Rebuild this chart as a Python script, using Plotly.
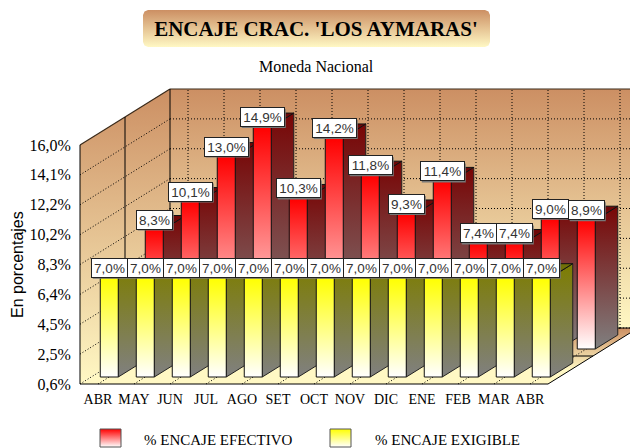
import plotly.graph_objects as go

months = ["ABR", "MAY", "JUN", "JUL", "AGO", "SET", "OCT", "NOV", "DIC", "ENE", "FEB", "MAR", "ABR"]
efectivo = [8.3, 10.1, 13.0, 14.9, 10.3, 14.2, 11.8, 9.3, 11.4, 7.4, 7.4, 9.0, 8.9]
exigible = [7.0, 7.0, 7.0, 7.0, 7.0, 7.0, 7.0, 7.0, 7.0, 7.0, 7.0, 7.0, 7.0]
y_ticks = [0.6, 2.525, 4.45, 6.375, 8.3, 10.225, 12.15, 14.075, 16.0]
y_labels = ["0,6%", "2,5%", "4,5%", "6,4%", "8,3%", "10,2%", "12,2%", "14,1%", "16,0%"]
title_text = "ENCAJE CRAC. 'LOS AYMARAS'"
subtitle_text = "Moneda Nacional"
y_title = "En porcentajes"
legend_names = ["% ENCAJE EFECTIVO", "% ENCAJE EXIGIBLE"]

W, H = 630, 448
L, R, T, B = 80, 548, 145, 384
VMIN, VMAX = 0.6, 16.0
N = len(months)
SLOT = (R - L) / N
PXV = (B - T) / (VMAX - VMIN)
DX, DY = 90 / SLOT, 56 / PXV   # full floor depth in axis units


def proj(x, v, d=0.0):
    return x + d * DX, v + d * DY


def px(xp, yp):
    return (xp - L) / SLOT, VMIN + (B - yp) / PXV


BROWN = "rgb(204,143,99)"
PALE = "rgb(255,248,196)"
traces = []


def poly(pts, scale=None, span=None, color=None, line="black", lw=1, name=None):
    xs = [p[0] for p in pts] + [pts[0][0]]
    ys = [p[1] for p in pts] + [pts[0][1]]
    kw = dict(x=xs, y=ys, mode="lines", fill="toself",
              hoverinfo="skip", showlegend=False, name=name,
              line=dict(color=line, width=lw, simplify=False))
    if line is None:
        kw["line"] = dict(width=0)
    if scale:
        fg = dict(type="vertical", colorscale=[[0, scale[0]], [1, scale[1]]])
        if span:
            fg["start"], fg["stop"] = span
        kw["fillgradient"] = fg
    else:
        kw["fillcolor"] = color
    traces.append(go.Scatter(**kw))


def seg(p, q, dash="solid", color="black", lw=1):
    traces.append(go.Scatter(x=[p[0], q[0]], y=[p[1], q[1]], mode="lines",
                             hoverinfo="skip", showlegend=False,
                             line=dict(color=color, width=lw, dash=dash)))


DOT = "1px,2px"
# walls and floor
back_bottom = proj(0, VMIN, 1)[1]
back_top = proj(0, VMAX, 1)[1]
poly([proj(0, VMIN, 1), proj(N, VMIN, 1), proj(N, VMAX, 1), proj(0, VMAX, 1)],
     scale=(PALE, BROWN), span=(back_bottom, back_top), line=None)
poly([proj(0, VMIN, 0), proj(0, VMIN, 1), proj(0, VMAX, 1), proj(0, VMAX, 0)],
     scale=(PALE, BROWN), span=(VMIN, back_top), line=None)
poly([proj(0, VMIN, 0), proj(N, VMIN, 0), proj(N, VMIN, 1), proj(0, VMIN, 1)],
     scale=(PALE, BROWN), span=(proj(0, VMIN, .25)[1], back_bottom), line=None)

# gridlines
for t in y_ticks[:-1]:
    seg(proj(0, t, 0), proj(0, t, 1), DOT)
    seg(proj(0, t, 1), proj(N, t, 1), DOT)
for i in range(N):
    seg(proj(i + .5, VMIN, 0), proj(i + .5, VMIN, 1), DOT)
    seg(proj(i + .5, VMIN, 1), proj(i + .5, VMAX, 1), DOT)

# frame
seg(proj(0, VMAX, 0), proj(0, VMAX, 1), lw=1.2, color="#3a2a1a")
seg(proj(0, VMAX, 1), proj(N, VMAX, 1), lw=1.2, color="#3a2a1a")
seg(proj(0, VMIN, 1), proj(0, VMAX, 1))
seg(proj(0, VMIN, .5), proj(0, VMAX, .5))
seg(proj(0, VMIN, .5), proj(N, VMIN, .5))
seg(proj(0, VMIN, 1), proj(N, VMIN, 1))
seg(proj(N, VMIN, 0), proj(N, VMIN, 1))
seg(proj(0, VMIN, 0), proj(N, VMIN, 0))
seg(proj(0, VMIN, 0), proj(0, VMAX, 0))


def bars(values, d0, d1, face, side, top):
    for i, v in enumerate(values):
        x0, x1 = i + .25, i + .75
        f0, f1 = proj(x0, VMIN, d0)[1], proj(x0, v, d0)[1]
        poly([proj(x1, VMIN, d0), proj(x1, VMIN, d1), proj(x1, v, d1), proj(x1, v, d0)],
             scale=(side[0], side[1]), line="#222222")
        poly([proj(x0, v, d0), proj(x1, v, d0), proj(x1, v, d1), proj(x0, v, d1)],
             color=top, line="#111111")
        poly([proj(x0, VMIN, d0), proj(x1, VMIN, d0), proj(x1, v, d0), proj(x0, v, d0)],
             scale=(face[0], face[1]), span=(f0, f1), line="#111111")


RED_F = ("rgb(255,255,255)", "rgb(255,0,0)")
RED_S = ("rgb(128,128,128)", "rgb(120,5,5)")
YEL_F = ("rgb(255,255,255)", "rgb(255,255,0)")
YEL_S = ("rgb(128,128,128)", "rgb(125,125,0)")
bars(efectivo, .625, .875, RED_F, RED_S, "rgb(110,8,8)")
bars(exigible, .125, .375, YEL_F, YEL_S, "rgb(112,112,8)")

annotations, shapes = [], []


def label(i, v, d):
    x, y = proj(i + .5, v, d)
    txt = f"{v:.1f}%".replace(".", ",")
    half = (22 if len(txt) > 4 else 18) / SLOT
    shapes.append(dict(type="rect", xref="x", yref="y", layer="above",
                       x0=x - half + 1.5 / SLOT, x1=x + half + 1.5 / SLOT,
                       y0=y - 1 / PXV, y1=y + 18 / PXV,
                       fillcolor="#777777", line=dict(width=0)))
    annotations.append(dict(x=x, y=y, xref="x", yref="y", text=txt, showarrow=False,
                            xanchor="center", yanchor="bottom", bgcolor="white",
                            bordercolor="#222222", borderwidth=1, borderpad=1,
                            width=2 * half * SLOT - 3, height=16, align="center",
                            font=dict(family="Liberation Sans", size=13.5, color="#333333")))


for i, v in enumerate(efectivo):
    label(i, v, .625)
for i, v in enumerate(exigible):
    label(i, v, .125)

# title box
bx0, bx1, by0, by1 = 143, 490, 10, 47
r = 5
box = [(bx0 + r, by1), (bx0 + 1.5, by1 - 1.5), (bx0, by1 - r), (bx0, by0 + r), (bx0 + 1.5, by0 + 1.5), (bx0 + r, by0),
       (bx1 - r, by0), (bx1 - 1.5, by0 + 1.5), (bx1, by0 + r), (bx1, by1 - r), (bx1 - 1.5, by1 - 1.5), (bx1 - r, by1)]
poly([px(a, b) for a, b in box], scale=(PALE, BROWN), line=None)

# legend
for (sx, tx, f, name) in [(100, 142, RED_F, legend_names[0]), (330, 373, YEL_F, legend_names[1])]:
    poly([px(sx, 447), px(sx + 21, 447), px(sx + 21, 429), px(sx, 429)], scale=f, line="#555555")
    xa, ya = px(tx, 440)
    annotations.append(dict(x=xa, y=ya, xref="x", yref="y", text=name, showarrow=False, xanchor="left",
                            yanchor="middle", font=dict(family="Liberation Serif", size=15, color="black")))

xa, ya = px(316, 66)
annotations.append(dict(x=xa, y=ya, xref="x", yref="y", text=subtitle_text, showarrow=False,
                        font=dict(family="Liberation Serif", size=16, color="black")))
xa, ya = px(17, 265)
annotations.append(dict(x=xa, y=ya, xref="x", yref="y", text=y_title, showarrow=False, textangle=-90,
                        font=dict(family="Liberation Sans", size=16, color="black")))

x_lo, x_hi = px(0, 0)[0], px(W, 0)[0]
y_lo, y_hi = px(0, H)[1], px(0, 0)[1]

fig = go.Figure(traces)
fig.update_layout(
    width=W, height=H, margin=dict(l=0, r=0, t=0, b=0, pad=0),
    paper_bgcolor="white", plot_bgcolor="rgba(0,0,0,0)", showlegend=False,
    title=dict(text=title_text, x=316 / W, xanchor="center", y=1 - 29 / H, yanchor="middle",
               font=dict(family="Liberation Serif", size=21, color="black", weight="bold")),
    annotations=annotations, shapes=shapes,
    xaxis=dict(range=[x_lo, x_hi], tickmode="array", tickvals=[i + .5 for i in range(N)], ticktext=months,
               anchor="free", position=1 - B / H,
               showgrid=False, zeroline=False, showline=False,
               ticks="outside", ticklen=2, tickcolor="rgba(0,0,0,0)", automargin=False,
               tickfont=dict(family="Liberation Serif", size=14, color="black")),
    yaxis=dict(range=[y_lo, y_hi], tickmode="array", tickvals=y_ticks, ticktext=y_labels,
               anchor="free", position=L / W,
               showgrid=False, zeroline=False, showline=False,
               ticks="outside", ticklen=6, tickcolor="rgba(0,0,0,0)", automargin=False,
               tickfont=dict(family="Liberation Serif", size=16, color="black")),
)
fig.write_html("out.html", config={"displayModeBar": False}, post_script="document.body.style.margin='0';")
